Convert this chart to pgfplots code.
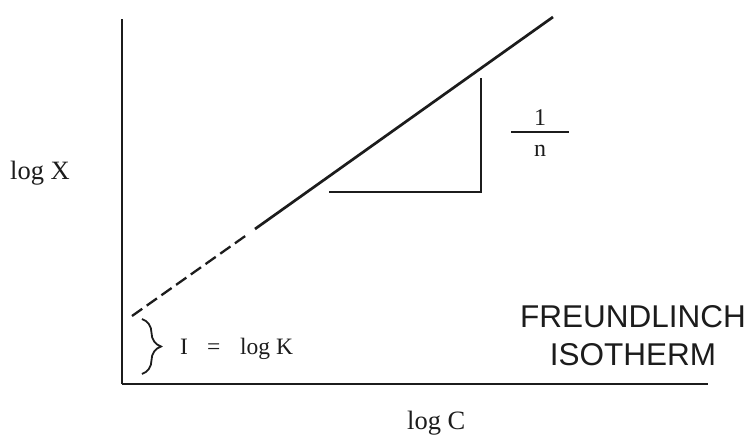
\documentclass[border=0pt]{standalone}
\usepackage{pgfplots}
\pgfplotsset{compat=1.18}
\usepackage{fontspec}
\setmainfont{Liberation Serif}
\newfontfamily\sansf{Liberation Sans}
\usetikzlibrary{decorations.pathreplacing}
\definecolor{ink}{HTML}{1C1C1C}

\begin{document}
\begin{tikzpicture}
\begin{axis}[
  scale only axis,
  width=586bp, height=365bp,
  xmin=122, xmax=708, ymin=51, ymax=416,
  axis lines=left,
  axis line style={-, line width=1.9bp, ink},
  xtick=\empty, ytick=\empty,
  clip=false,
]
% extrapolated part of the isotherm down to the intercept
\addplot[ink, line width=2.3bp, dash pattern=on 12.5bp off 5.5bp]
  coordinates {(132,119) (246,199.5)};
% measured linear part
\addplot[ink, line width=2.7bp] coordinates {(255,206) (553,418)};
% slope triangle
\addplot[ink, line width=2bp] coordinates {(329,243) (481,243) (481,357)};
% fraction bar of 1/n
\addplot[ink, line width=1.5bp] coordinates {(511,303) (569,303)};

\node[anchor=base, ink, font=\fontsize{24bp}{27bp}\selectfont] at (axis cs:540,309) {1};
\node[anchor=base, ink, font=\fontsize{24bp}{27bp}\selectfont] at (axis cs:540,278) {n};

% intercept
\draw[ink, line width=1.8bp, decorate, decoration={brace, amplitude=19bp}]
  (axis cs:142,116) -- (axis cs:142,61);
\node[anchor=base west, ink, inner sep=0pt, font=\fontsize{23.5bp}{26bp}\selectfont] at (axis cs:180,81) {I};
\node[anchor=base west, ink, inner sep=0pt, font=\fontsize{23.5bp}{26bp}\selectfont] at (axis cs:207,81) {=};
\node[anchor=base west, ink, inner sep=0pt, font=\fontsize{23.5bp}{26bp}\selectfont] at (axis cs:240,81) {log K};

% axis titles
\node[anchor=base west, ink, inner sep=0pt, font=\fontsize{26.5bp}{30bp}\selectfont] at (axis cs:10,255) {log X};
\node[anchor=base west, ink, inner sep=0pt, font=\fontsize{26.5bp}{30bp}\selectfont] at (axis cs:407,6) {log C};

% title
\node[anchor=base, ink, inner sep=0pt, font=\sansf\fontsize{31.5bp}{34bp}\selectfont] at (axis cs:633,107) {FREUNDLINCH};
\node[anchor=base, ink, inner sep=0pt, font=\sansf\fontsize{31.5bp}{34bp}\selectfont] at (axis cs:633,70) {ISOTHERM};

\coordinate (bl) at (axis cs:0,0);
\coordinate (tr) at (axis cs:745,435);
\end{axis}
\pgfresetboundingbox
\path (bl) rectangle (tr);
\end{tikzpicture}
\end{document}
